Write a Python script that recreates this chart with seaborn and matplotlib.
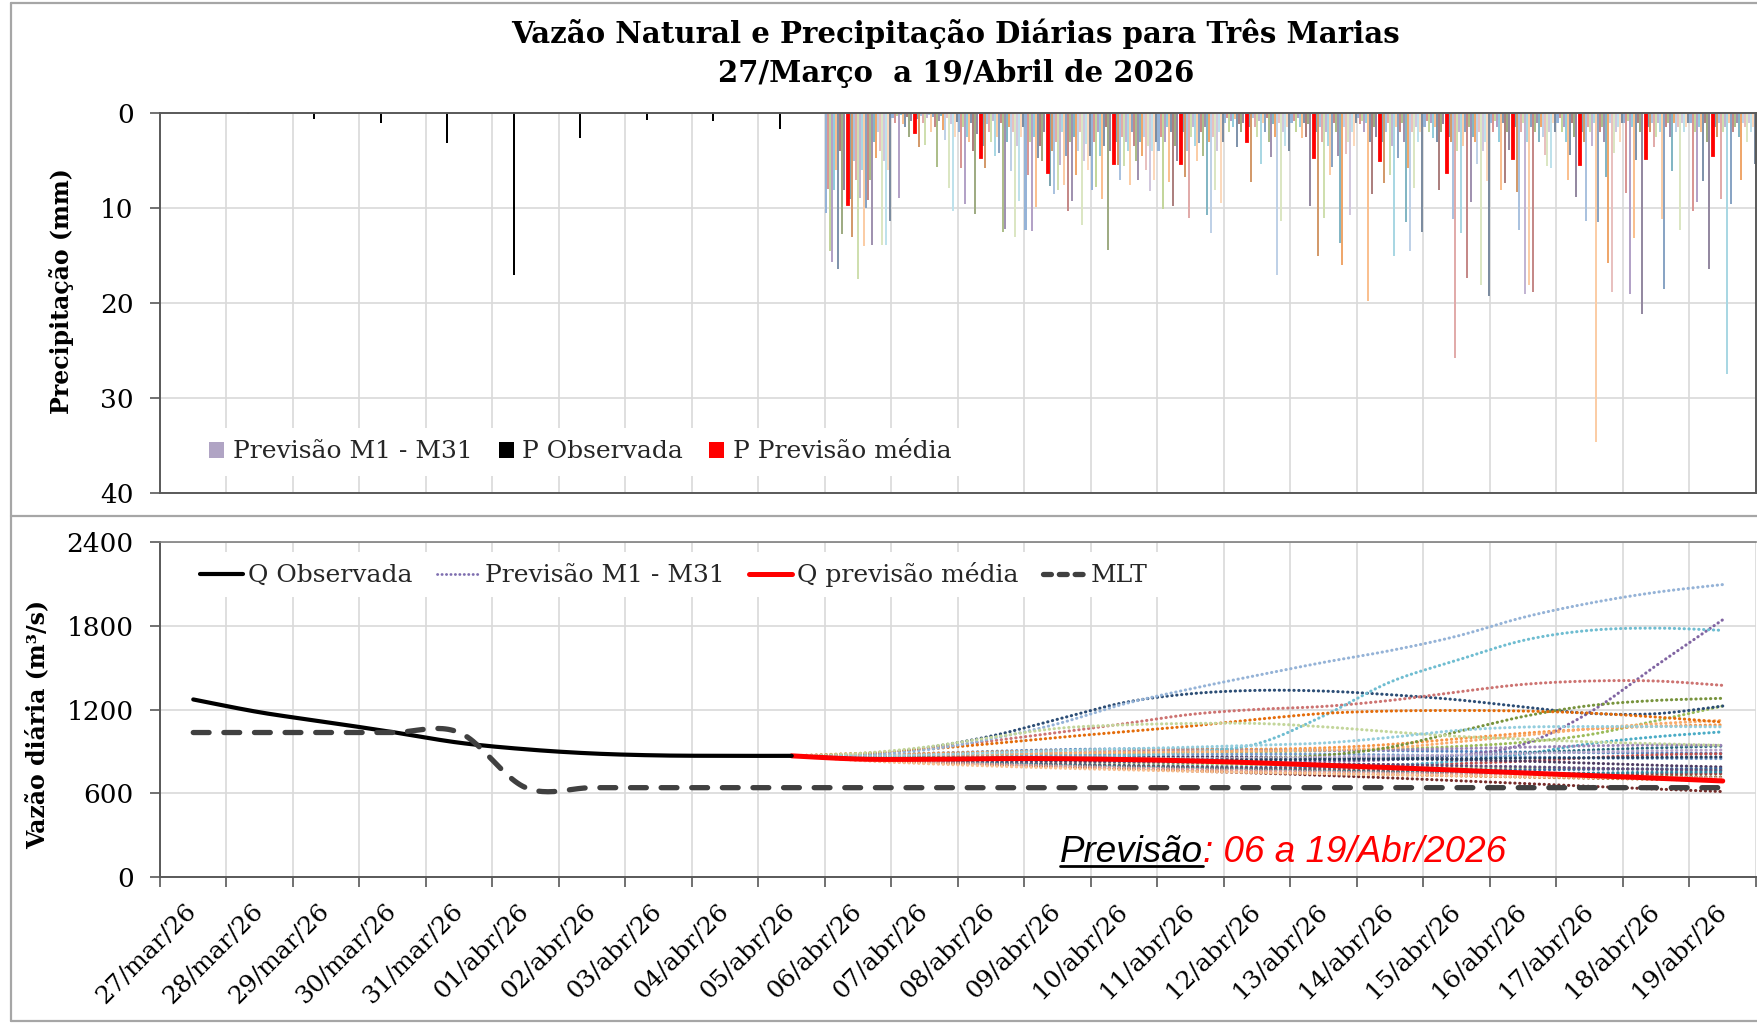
import numpy as np
import pandas as pd
import matplotlib
matplotlib.use("Agg")
import matplotlib.pyplot as plt
import seaborn as sns
from matplotlib.lines import Line2D
from matplotlib.patches import Patch
from matplotlib.colors import to_rgb

# ---------------- DATA ----------------
datas = ["27/mar/26", "28/mar/26", "29/mar/26", "30/mar/26", "31/mar/26",
         "01/abr/26", "02/abr/26", "03/abr/26", "04/abr/26", "05/abr/26",
         "06/abr/26", "07/abr/26", "08/abr/26", "09/abr/26", "10/abr/26",
         "11/abr/26", "12/abr/26", "13/abr/26", "14/abr/26", "15/abr/26",
         "16/abr/26", "17/abr/26", "18/abr/26", "19/abr/26"]

# precipitação observada (27/mar .. 05/abr), mm
p_observada = [0.0, 0.1, 0.6, 1.1, 3.2, 17.0, 2.6, 0.7, 0.8, 1.7]
# precipitação prevista média (06/abr .. 19/abr), mm
p_prev_media = [9.7, 2.1, 4.7, 6.3, 5.4, 5.4, 3.1, 4.7, 5.1, 6.3, 4.8, 5.5, 4.8, 4.5]
# precipitação prevista por membro M1..M31, um vetor por dia (06/abr .. 19/abr)
p_prev_membros = [
    [10.5, 8.0, 14.5, 15.7, 8.1, 6.0, 16.4, 4.0, 12.7, 8.1, 9.0, 13.1, 5.0, 7.0, 17.5, 8.9, 6.0, 14.0, 10.0, 9.2, 7.0, 13.9, 3.0, 4.7, 2.0, 4.0, 13.9, 5.0, 13.9, 6.0, 11.4],
    [0.5, 1.0, 0.3, 8.9, 0.2, 1.2, 1.5, 0.4, 2.5, 0.8, 0.6, 3.6, 0.3, 1.0, 3.4, 0.5, 0.2, 2.0, 0.4, 1.5, 5.7, 0.8, 0.3, 1.8, 2.8, 0.5, 7.9, 1.2, 10.3, 2.5, 0.9],
    [2.0, 5.8, 1.5, 9.6, 2.5, 3.0, 1.0, 4.0, 10.6, 2.2, 3.5, 5.8, 1.2, 2.0, 3.0, 0.8, 4.5, 2.5, 4.2, 1.0, 12.5, 12.2, 3.0, 1.5, 6.1, 2.0, 13.0, 3.5, 9.3, 2.5, 1.5],
    [12.3, 6.5, 3.0, 12.4, 2.5, 9.9, 4.7, 3.5, 5.0, 2.0, 7.7, 4.0, 8.5, 3.0, 8.1, 5.5, 2.0, 7.6, 4.5, 10.3, 3.0, 9.3, 2.5, 6.5, 4.0, 2.0, 11.8, 5.0, 3.3, 6.0, 4.5],
    [8.1, 3.0, 7.8, 2.0, 4.5, 9.0, 3.5, 1.5, 14.4, 4.0, 3.0, 5.5, 7.0, 2.5, 5.6, 3.0, 4.0, 7.6, 2.0, 3.5, 5.0, 7.1, 3.0, 4.5, 2.5, 6.0, 3.5, 8.2, 4.0, 7.0, 3.0],
    [4.0, 2.5, 10.1, 3.0, 1.5, 7.3, 2.0, 9.8, 3.5, 5.0, 2.0, 6.7, 4.0, 11.1, 2.5, 1.5, 3.5, 5.0, 3.2, 2.0, 4.5, 1.5, 10.7, 3.0, 12.6, 2.5, 8.1, 4.0, 2.0, 9.5, 3.0],
    [1.0, 0.5, 2.0, 0.8, 1.5, 0.6, 3.6, 1.2, 2.0, 1.0, 1.5, 7.3, 0.5, 1.5, 2.5, 0.8, 5.4, 1.0, 2.0, 0.5, 3.0, 4.6, 1.2, 2.5, 17.0, 1.0, 11.4, 2.0, 3.5, 1.5, 4.0],
    [1.0, 0.8, 2.0, 0.5, 1.5, 2.6, 1.0, 2.5, 1.2, 9.8, 2.0, 15.1, 1.5, 3.0, 11.0, 2.0, 3.5, 6.5, 5.7, 1.0, 2.0, 4.5, 13.7, 16.0, 1.5, 4.3, 3.0, 10.7, 2.0, 3.5, 1.0],
    [0.5, 1.2, 0.8, 2.0, 1.0, 19.8, 3.0, 8.5, 1.5, 2.5, 3.0, 7.4, 2.0, 1.0, 6.5, 3.5, 15.0, 1.5, 4.7, 2.0, 1.0, 3.0, 11.5, 5.8, 14.5, 2.0, 7.9, 1.5, 3.0, 2.0, 12.5],
    [1.5, 0.8, 2.0, 1.0, 2.6, 1.5, 3.0, 8.1, 2.0, 1.2, 2.5, 3.0, 11.2, 25.8, 4.0, 2.0, 12.6, 3.5, 2.0, 17.4, 1.5, 9.4, 2.5, 3.0, 5.4, 2.0, 18.1, 4.0, 3.0, 7.2, 19.3],
    [1.0, 2.0, 0.8, 1.5, 3.0, 8.1, 1.0, 7.4, 2.0, 3.9, 1.5, 8.3, 12.3, 2.0, 1.0, 19.1, 3.0, 18.1, 1.5, 18.8, 2.0, 1.0, 3.0, 1.5, 2.5, 4.4, 5.6, 2.0, 5.8, 1.0, 2.0],
    [1.0, 0.5, 2.0, 1.5, 3.0, 7.0, 4.4, 1.0, 2.5, 8.8, 2.0, 3.0, 11.4, 1.5, 2.0, 3.5, 1.0, 34.6, 11.5, 2.0, 1.5, 3.0, 6.7, 15.8, 1.0, 18.8, 4.2, 2.0, 1.5, 3.0, 1.0],
    [1.0, 8.4, 0.8, 19.1, 1.5, 13.2, 4.9, 1.0, 2.0, 21.2, 1.5, 2.0, 1.0, 3.6, 2.5, 1.0, 2.0, 11.2, 18.5, 1.5, 1.0, 2.5, 6.1, 1.0, 2.0, 1.5, 12.3, 1.0, 2.0, 1.5, 1.0],
    [1.0, 10.3, 2.0, 9.4, 1.5, 2.0, 7.2, 1.0, 3.0, 16.4, 1.5, 2.5, 1.0, 9.1, 2.0, 1.5, 27.5, 1.0, 9.6, 2.0, 1.5, 1.0, 2.5, 7.1, 1.0, 1.5, 3.0, 1.0, 2.0, 1.5, 5.4],
]

# vazão observada (27/mar .. 05/abr), m3/s
q_observada = [1272, 1180, 1110, 1038, 962, 915, 885, 871, 868, 868]
# vazão prevista média (05/abr .. 19/abr)
q_prev_media = [868, 845, 843, 848, 848, 842, 832, 818, 800, 784, 765, 745, 727, 708, 688]
# MLT (27/mar .. 19/abr)
q_mlt = [1035, 1035, 1035, 1035, 1035, 640, 640, 640, 640, 640, 640, 640,
         640, 640, 640, 640, 640, 640, 640, 640, 640, 640, 640, 640]
# vazão prevista por membro M1..M31 (05/abr .. 19/abr)
q_prev_membros = [
    [868, 872, 885, 900, 912, 918, 918, 915, 910, 905, 900, 895, 890, 888, 886],
    [868, 852, 845, 840, 835, 828, 820, 812, 805, 805, 812, 830, 855, 875, 883],
    [868, 865, 868, 872, 878, 885, 890, 895, 905, 915, 935, 965, 1020, 1120, 1225],
    [868, 850, 842, 838, 835, 832, 830, 828, 830, 840, 870, 950, 1180, 1515, 1843],
    [868, 850, 835, 820, 805, 795, 788, 782, 785, 800, 830, 880, 955, 1005, 1040],
    [868, 875, 885, 895, 905, 910, 912, 915, 925, 950, 990, 1030, 1060, 1080, 1090],
    [868, 875, 925, 1010, 1130, 1250, 1313, 1337, 1332, 1306, 1270, 1218, 1172, 1170, 1225],
    [868, 840, 820, 805, 790, 775, 760, 745, 728, 710, 690, 670, 650, 630, 612],
    [868, 842, 825, 812, 800, 790, 780, 770, 762, 755, 748, 740, 732, 724, 716],
    [868, 858, 855, 855, 858, 862, 862, 860, 855, 848, 840, 830, 815, 800, 788],
    [868, 862, 858, 855, 852, 850, 848, 846, 848, 855, 870, 890, 910, 925, 938],
    [868, 838, 818, 802, 788, 775, 763, 752, 742, 733, 724, 716, 708, 700, 692],
    [868, 860, 858, 862, 870, 875, 878, 880, 880, 875, 868, 860, 852, 850, 848],
    [868, 880, 920, 975, 1035, 1098, 1165, 1201, 1222, 1265, 1325, 1380, 1404, 1404, 1373],
    [868, 850, 838, 830, 822, 815, 808, 800, 795, 790, 785, 780, 776, 772, 770],
    [868, 865, 870, 880, 890, 900, 905, 905, 905, 910, 920, 930, 940, 945, 943],
    [868, 855, 850, 852, 858, 870, 895, 955, 1155, 1397, 1552, 1695, 1767, 1783, 1767],
    [868, 870, 875, 882, 888, 893, 897, 902, 910, 925, 967, 1014, 1062, 1098, 1122],
    [868, 848, 835, 822, 810, 800, 792, 785, 780, 775, 770, 768, 772, 775, 776],
    [868, 845, 830, 818, 806, 795, 785, 776, 768, 760, 752, 745, 740, 738, 740],
    [868, 860, 855, 852, 850, 848, 848, 852, 872, 930, 1040, 1150, 1228, 1265, 1280],
    [868, 848, 838, 832, 828, 825, 822, 818, 812, 805, 798, 790, 780, 770, 762],
    [868, 845, 828, 815, 802, 790, 780, 770, 760, 752, 745, 740, 745, 750, 752],
    [868, 885, 915, 955, 1000, 1040, 1081, 1130, 1172, 1189, 1193, 1189, 1174, 1146, 1110],
    [868, 872, 910, 990, 1098, 1240, 1348, 1445, 1538, 1622, 1725, 1860, 1962, 2040, 2095],
    [868, 842, 822, 808, 795, 783, 772, 762, 753, 745, 737, 730, 723, 716, 710],
    [868, 885, 930, 1000, 1065, 1090, 1100, 1100, 1076, 1040, 1008, 988, 968, 955, 943],
    [868, 855, 850, 848, 846, 846, 848, 852, 858, 865, 875, 885, 895, 905, 910],
    [868, 865, 875, 890, 905, 918, 930, 945, 960, 1000, 1050, 1074, 1078, 1078, 1076],
    [868, 835, 812, 795, 780, 768, 757, 748, 740, 732, 725, 718, 712, 706, 700],
    [868, 850, 842, 838, 836, 836, 838, 840, 842, 845, 848, 852, 855, 858, 860],
]

cores_membros = ["#4F81BD", "#C0504D", "#9BBB59", "#8064A2", "#4BACC6", "#F79646",
                 "#2C4D75", "#772C2A", "#5F7530", "#4D3B62", "#276A7C", "#B65708",
                 "#729ACA", "#CD7371", "#AFC97A", "#9983B5", "#6FBDD1", "#F9AB6B",
                 "#3A679C", "#9F3B38", "#77933C", "#604A7B", "#31859C", "#E46C0A",
                 "#95B3D7", "#D99694", "#C3D69B", "#B3A2C7", "#93CDDD", "#FAC090",
                 "#254061"]

titulo1 = "Vazão Natural e Precipitação Diárias para Três Marias"
titulo2 = "27/Março  a 19/Abril de 2026"

# ---------------- STYLE ----------------
sns.set_theme(style="white")
plt.rcParams["font.family"] = ["DejaVu Serif"]
plt.rcParams["axes.unicode_minus"] = False

W, H = 1758, 1024
fig = plt.figure(figsize=(W / 100, H / 100), dpi=100)
fig.patch.set_facecolor("white")


def fx(px):
    return px / W


def fy(py):
    return 1 - py / H


def clarear(c, f):
    r = to_rgb(c)
    return tuple(1 - (1 - v) * f for v in r)


def suaviza(xv, yv, n=24):
    """Excel-like smoothed line (Catmull-Rom through the daily points)."""
    x = np.asarray(xv, float)
    y = np.asarray(yv, float)
    xp = np.concatenate([[x[0]], x, [x[-1]]])
    yp = np.concatenate([[y[0]], y, [y[-1]]])
    t = np.linspace(0, 1, n, endpoint=False)
    h00 = 2 * t**3 - 3 * t**2 + 1
    h10 = t**3 - 2 * t**2 + t
    h01 = -2 * t**3 + 3 * t**2
    h11 = t**3 - t**2
    xs, ys = [], []
    for i in range(len(x) - 1):
        for P, out in ((xp, xs), (yp, ys)):
            p0, p1, p2, p3 = P[i], P[i + 1], P[i + 2], P[i + 3]
            m1 = (p2 - p0) / 2
            m2 = (p3 - p1) / 2
            out.append(h00 * p1 + h10 * m1 + h01 * p2 + h11 * m2)
    xs.append([x[-1]])
    ys.append([y[-1]])
    return np.concatenate(xs), np.concatenate(ys)


AX_L, AX_R = 160, 1756
ax1 = fig.add_axes([fx(AX_L), fy(493), (AX_R - AX_L) / W, 380 / H])
ax2 = fig.add_axes([fx(AX_L), fy(877), (AX_R - AX_L) / W, 335 / H])

SPINE = "#595959"
GRID = "#D9D9D9"
TICK_FS = 18
YTICK_FS = 19

# ---------------- TOP: precipitation ----------------
membros = [f"M{i}" for i in range(1, 32)]
serie_ordem = membros[:10] + ["P Observada", "P Previsão média"] + membros[10:]
n_obs = len(p_observada)

rows = []
for d, vals in enumerate(p_prev_membros):
    for m, v in zip(membros, vals):
        rows.append((datas[n_obs + d], m, v))
df_memb = pd.DataFrame(rows, columns=["data", "serie", "mm"])
df_obs = pd.DataFrame({"data": datas[:n_obs], "serie": "P Observada", "mm": p_observada})
df_med = pd.DataFrame({"data": datas[n_obs:], "serie": "P Previsão média", "mm": p_prev_media})

pal_barras = {m: clarear(c, 0.6) for m, c in zip(membros, cores_membros)}
pal_barras["P Observada"] = "#000000"
pal_barras["P Previsão média"] = "#FF0000"

comum = dict(x="data", y="mm", hue="serie", order=datas, hue_order=serie_ordem,
             palette=pal_barras, dodge=True, width=1.0, saturation=1,
             errorbar=None, legend=False, ax=ax1)
sns.barplot(data=df_memb, linewidth=0, **comum)
sns.barplot(data=df_obs, linewidth=0, **comum)
sns.barplot(data=df_med, linewidth=1.3, edgecolor="#FF0000", **comum)

ax1.set_ylim(40, 0)
ax1.set_xlim(-0.5, len(datas) - 0.5)
ax1.set_yticks([0, 10, 20, 30, 40])
ax1.set_xticks([])
ax1.set_xticks(np.arange(0.5, len(datas) - 0.5, 1), minor=True)
ax1.set_axisbelow(True)
ax1.yaxis.grid(True, color=GRID, lw=1.2)
ax1.xaxis.grid(True, which="minor", color=GRID, lw=1.2)
ax1.tick_params(axis="x", which="both", length=0, labelbottom=False)
ax1.tick_params(axis="y", left=True, length=7, width=1.2, color=SPINE,
                direction="out", pad=12, labelsize=YTICK_FS, labelcolor="black")
ax1.set_xlabel("")
ax1.set_ylabel("")
for s in ax1.spines.values():
    s.set_color(SPINE)
    s.set_linewidth(1.4)

leg1_handles = [Patch(facecolor="#B0A4C4", edgecolor="none"),
                Patch(facecolor="#000000", edgecolor="none"),
                Patch(facecolor="#FF0000", edgecolor="none")]
leg1 = ax1.legend(leg1_handles, ["Previsão M1 - M31", "P Observada", "P Previsão média"],
                  loc="center left", bbox_to_anchor=(0.015, 0.108), ncol=3,
                  frameon=True, facecolor="white", edgecolor="none", framealpha=1,
                  fancybox=False, fontsize=TICK_FS, handlelength=0.6, handleheight=0.6,
                  handletextpad=0.35, columnspacing=1.05, borderpad=0.5)
leg1.set_zorder(10)

# ---------------- BOTTOM: flow ----------------
x_obs = list(range(len(q_observada)))
x_prev = list(range(n_obs - 1, len(datas)))
x_all = list(range(len(datas)))

for vals, cor in zip(q_prev_membros, cores_membros):
    xs, ys = suaviza(x_prev, vals)
    sns.lineplot(x=xs, y=ys, ax=ax2, color=cor, linewidth=2.2,
                 linestyle=(0, (0.1, 1.5)), dash_capstyle="round",
                 estimator=None, sort=False, errorbar=None, legend=False, zorder=2)

xs, ys = suaviza(x_prev, q_prev_media)
sns.lineplot(x=xs, y=ys, ax=ax2, color="#FF0000", linewidth=3.6, estimator=None,
             sort=False, errorbar=None, legend=False, zorder=3)
xs, ys = suaviza(x_obs, q_observada)
sns.lineplot(x=xs, y=ys, ax=ax2, color="#000000", linewidth=3.0, estimator=None,
             sort=False, errorbar=None, legend=False, zorder=4)
xs, ys = suaviza(x_all, q_mlt)
sns.lineplot(x=xs, y=ys, ax=ax2, color="#404040", linewidth=3.8,
             linestyle=(0, (3.0, 2.8)), dash_capstyle="round", estimator=None,
             sort=False, errorbar=None, legend=False, zorder=5)

ax2.set_xlim(-0.5, len(datas) - 0.5)
ax2.set_ylim(0, 2400)
ax2.set_yticks([0, 600, 1200, 1800, 2400])
ax2.set_xticks(x_all)
ax2.set_xticklabels(datas, rotation=45, ha="right", va="center", rotation_mode="anchor")
ax2.set_xticks(np.arange(-0.5, len(datas), 1), minor=True)
ax2.set_axisbelow(True)
ax2.yaxis.grid(True, color=GRID, lw=1.2)
ax2.xaxis.grid(True, which="minor", color=GRID, lw=1.2)
ax2.tick_params(axis="x", which="major", bottom=False, length=0, pad=22,
                labelsize=TICK_FS, labelcolor="black")
ax2.tick_params(axis="x", which="minor", bottom=True, length=7, width=1.2,
                color=SPINE, direction="out")
ax2.tick_params(axis="y", left=True, length=7, width=1.2, color=SPINE,
                direction="out", pad=12, labelsize=YTICK_FS, labelcolor="black")
ax2.set_xlabel("")
ax2.set_ylabel("")
ax2.spines["left"].set_color(SPINE)
ax2.spines["bottom"].set_color(SPINE)
ax2.spines["left"].set_linewidth(1.4)
ax2.spines["bottom"].set_linewidth(1.4)
ax2.spines["top"].set_color("#7F7F7F")
ax2.spines["top"].set_linewidth(1.2)
ax2.spines["right"].set_visible(False)

leg2_handles = [
    Line2D([], [], color="#000000", lw=3.0),
    Line2D([], [], color="#7F6FB0", lw=2.0, linestyle=(0, (0.1, 1.5)), dash_capstyle="round"),
    Line2D([], [], color="#FF0000", lw=3.6),
    Line2D([], [], color="#404040", lw=3.8, linestyle=(0, (1.5, 1.5)), dash_capstyle="round"),
]
leg2 = ax2.legend(leg2_handles, ["Q Observada", "Previsão M1 - M31", "Q previsão média", "MLT"],
                  loc="center left", bbox_to_anchor=(0.011, 0.902), ncol=4,
                  frameon=True, facecolor="white", edgecolor="none", framealpha=1,
                  fancybox=False, fontsize=TICK_FS, handlelength=1.7,
                  handletextpad=0.2, columnspacing=1.0, borderpad=0.4)
leg2.set_zorder(10)

# ---------------- TEXTS ----------------
fig.text(fx(956), fy(34), titulo1, ha="center", va="center", fontsize=21,
         fontweight="bold", color="black")
fig.text(fx(956), fy(74), titulo2, ha="center", va="center", fontsize=21,
         fontweight="bold", color="black")
fig.text(fx(62), fy(291), "Precipitação (mm)", ha="center", va="center",
         rotation=90, fontsize=17, fontweight="bold", color="black")
fig.text(fx(37), fy(724), "Vazão diária (m³/s)", ha="center", va="center",
         rotation=90, fontsize=17, fontweight="bold", color="black")

t1 = fig.text(fx(1060), fy(862), "Previsão", ha="left", va="baseline",
              fontsize=26.5, style="italic", family=["Liberation Sans", "DejaVu Sans"],
              color="black")
t2 = ax2.annotate(": 06 a 19/Abr/2026", xy=(1, 0), xycoords=t1, ha="left", va="bottom",
                  fontsize=26.5, style="italic", family=["Liberation Sans", "DejaVu Sans"],
                  color="#FF0000", annotation_clip=False)

# chart-area frames
borda = "#A6A6A6"
for (x0, y0, x1, y1) in [(11, 3, 1758, 3), (11, 3, 11, 1021), (11, 516, 1758, 516),
                         (11, 1021, 1758, 1021)]:
    fig.add_artist(Line2D([fx(x0), fx(x1)], [fy(y0), fy(y1)], transform=fig.transFigure,
                          color=borda, lw=1.6))

fig.canvas.draw()
bb = t1.get_window_extent()
fig.add_artist(Line2D([bb.x0 / W, bb.x1 / W], [(bb.y0 + 4) / H] * 2,
                      transform=fig.transFigure, color="black", lw=2.0))

fig.savefig("out.png", dpi=100, facecolor="white")
